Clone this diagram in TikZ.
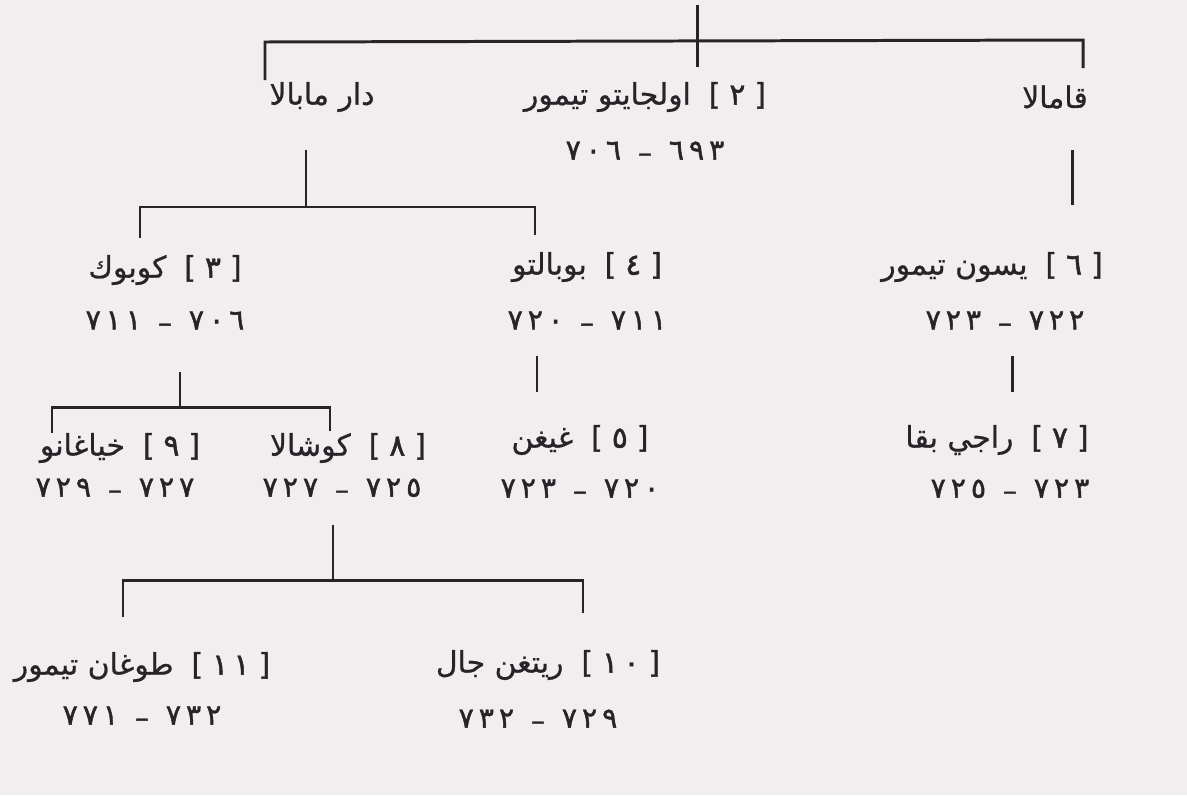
\documentclass[tikz,border=0pt]{standalone}
\usepackage{fontspec}
\newfontfamily\ar[Script=Arabic,FakeBold=0.7]{DejaVu Sans}
\newfontfamily\ardig[LetterSpace=18,FakeBold=1.6]{DejaVu Sans}
\newfontfamily\lat[FakeBold=1]{DejaVu Sans}
\TeXXeTstate=1
\definecolor{ink}{RGB}{38,36,40}
\definecolor{paper}{RGB}{242,237,238}
\newcommand\nm[2]{{\ar\beginR #1\endR}\hspace{0.6em}{\lat[}\hspace{0.3em}{\ardig #2}\hspace{0.3em}{\lat]}}
\newcommand\nmo[1]{{\ar\beginR #1\endR}}
\newcommand\dt[2]{{\ardig #1}\hspace{0.6em}\raisebox{-0.1em}{\lat –}\hspace{0.6em}{\ardig #2}}
\tikzset{
  ln/.style={draw=ink, line width=1.7pt},
  nmbox/.style={inner sep=0pt, text=ink, font=\fontsize{17}{20}\selectfont},
  dtbox/.style={inner sep=0pt, text=ink, font=\fontsize{16}{19}\selectfont},
}
\begin{document}
\begin{tikzpicture}[x=0.02cm,y=-0.02cm]
\fill[paper] (0,0) rectangle (1187,795);
\useasboundingbox (0,0) rectangle (1187,795);

% labels
\node[nmbox] (dar) at (322,97) {\nmo{دار مابالا}};
\node[nmbox] (olj) at (645,97) {\nm{اولجايتو تيمور}{٢}};
\node[nmbox] (qam) at (1055,97) {\nmo{قامالا}};
\node[dtbox] (dolj) at (645,152) {\dt{٧٠٦}{٦٩٣}};

\node[nmbox] (kub) at (165,270) {\nm{كوبوك}{٣}};
\node[dtbox] (dkub) at (165,322) {\dt{٧١١}{٧٠٦}};
\node[nmbox] (buy) at (587,267) {\nm{بوبالتو}{٤}};
\node[dtbox] (dbuy) at (587,322) {\dt{٧٢٠}{٧١١}};
\node[nmbox] (yes) at (992,267) {\nm{يسون تيمور}{٦}};
\node[dtbox] (dyes) at (1005,322) {\dt{٧٢٣}{٧٢٢}};

\node[nmbox] (geg) at (580,440) {\nm{غيغن}{٥}};
\node[dtbox] (dgeg) at (580,490) {\dt{٧٢٣}{٧٢٠}};
\node[nmbox] (rag) at (997,440) {\nm{راجي بقا}{٧}};
\node[dtbox] (drag) at (1010,490) {\dt{٧٢٥}{٧٢٣}};
\node[nmbox] (kha) at (120,448) {\nm{خياغانو}{٩}};
\node[dtbox] (dkha) at (115,489) {\dt{٧٢٩}{٧٢٧}};
\node[nmbox] (kus) at (348,448) {\nm{كوشالا}{٨}};
\node[dtbox] (dkus) at (342,489) {\dt{٧٢٧}{٧٢٥}};

\node[nmbox] (tog) at (142,667) {\nm{طوغان تيمور}{١١}};
\node[dtbox] (dtog) at (142,717) {\dt{٧٧١}{٧٣٢}};
\node[nmbox] (rin) at (548,665) {\nm{ريتغن جال}{١٠}};
\node[dtbox] (drin) at (538,720) {\dt{٧٣٢}{٧٢٩}};

% junction coordinates
\coordinate (r0) at (697,5);
\coordinate (r1) at (697,67);
\coordinate (hL) at (265,42);
\coordinate (hR) at (1083,40);
\coordinate (dL) at (265,80);
\coordinate (dR) at (1083,68);

\coordinate (a0) at (306,150);
\coordinate (a1) at (306,207);
\coordinate (aL) at (140,207);
\coordinate (aR) at (535,207);
\coordinate (aLd) at (140,238);
\coordinate (aRd) at (535,235);

\coordinate (q0) at (1072,150);
\coordinate (q1) at (1072,205);

\coordinate (k0) at (180,372);
\coordinate (k1) at (180,407);
\coordinate (kL) at (52,407);
\coordinate (kR) at (330,407);
\coordinate (kLd) at (52,433);
\coordinate (kRd) at (330,431);

\coordinate (b0) at (537,356);
\coordinate (b1) at (537,392);
\coordinate (y0) at (1012,356);
\coordinate (y1) at (1012,392);

\coordinate (s0) at (333,525);
\coordinate (s1) at (333,580);
\coordinate (sL) at (123,580);
\coordinate (sR) at (583,580);
\coordinate (sLd) at (123,617);
\coordinate (sRd) at (583,613);

% connectors
\draw[ln] (r0) -- (r1);
\draw[ln] (dL) -- (hL) -- (hR) -- (dR);
\draw[ln] (a0) -- (a1);
\draw[ln] (aLd) -- (aL) -- (aR) -- (aRd);
\draw[ln] (q0) -- (q1);
\draw[ln] (k0) -- (k1);
\draw[ln] (kLd) -- (kL) -- (kR) -- (kRd);
\draw[ln] (b0) -- (b1);
\draw[ln] (y0) -- (y1);
\draw[ln] (s0) -- (s1);
\draw[ln] (sLd) -- (sL) -- (sR) -- (sRd);
\end{tikzpicture}
\end{document}
